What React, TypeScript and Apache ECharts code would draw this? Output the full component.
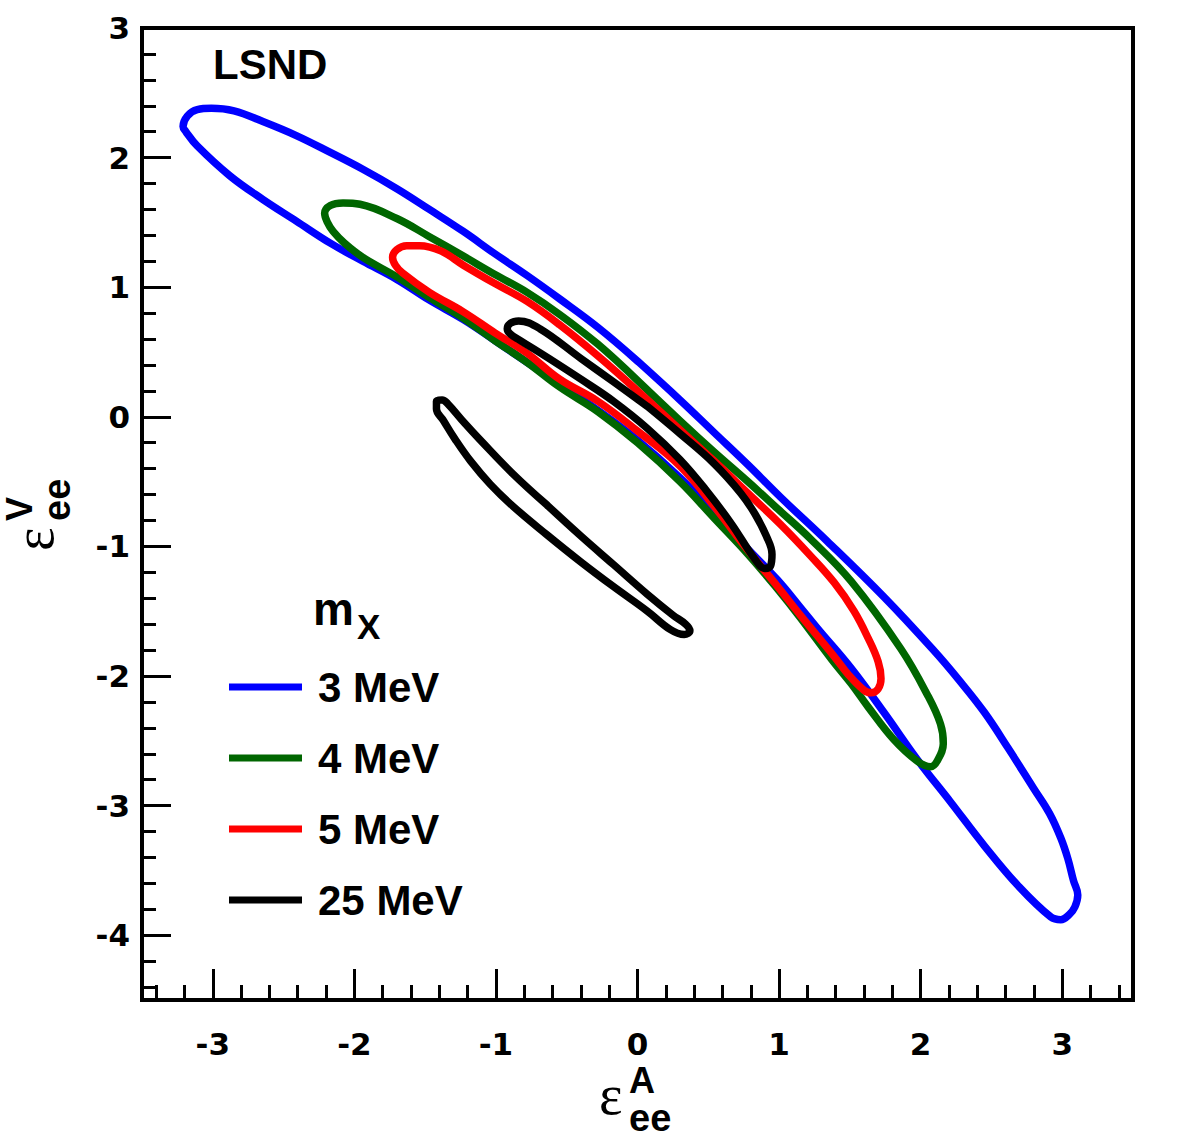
import React, { useEffect, useRef } from 'react';
import * as echarts from 'echarts';

// ---------- axes ----------
const xRange = [-3.5, 3.5];
const yRange = [-4.5, 3];
const xTickLabels = [-3, -2, -1, 0, 1, 2, 3];
const yTickLabels = [-4, -3, -2, -1, 0, 1, 2, 3];

// ---------- legend / labels ----------
const massLabels = ['3 MeV', '4 MeV', '5 MeV', '25 MeV'];
const massColors = ['#0000ff', '#006600', '#ff0000', '#000000'];
const experimentLabel = 'LSND';

// ---------- contours (eps_ee^A, eps_ee^V) ----------
const contour3MeV: [number, number][] = [
  [-3.21, 2.24], [-3.18, 2.32], [-3.11, 2.37], [-3.01, 2.38], [-2.85, 2.36], [-2.65, 2.28],
  [-2.41, 2.17], [-2.17, 2.04], [-1.94, 1.91], [-1.70, 1.76], [-1.47, 1.60], [-1.23, 1.43],
  [-1.01, 1.26], [-0.78, 1.09], [-0.55, 0.91], [-0.28, 0.69], [0.00, 0.43], [0.30, 0.13],
  [0.54, -0.12], [0.78, -0.37], [1.01, -0.62], [1.34, -0.96], [1.74, -1.39], [2.09, -1.80],
  [2.27, -2.03], [2.45, -2.28], [2.62, -2.56], [2.80, -2.87], [2.91, -3.06], [2.99, -3.25],
  [3.04, -3.41], [3.08, -3.58], [3.11, -3.69], [3.09, -3.78], [3.05, -3.84], [2.99, -3.88],
  [2.92, -3.86], [2.69, -3.62], [2.45, -3.31], [2.21, -2.97], [1.98, -2.65], [1.74, -2.28],
  [1.51, -1.94], [1.27, -1.63], [1.15, -1.47], [0.99, -1.26], [0.78, -1.02], [0.54, -0.74],
  [0.30, -0.47], [0.00, -0.18], [-0.28, 0.05], [-0.55, 0.25], [-0.78, 0.42], [-1.01, 0.59],
  [-1.23, 0.75], [-1.47, 0.90], [-1.70, 1.06], [-1.94, 1.20], [-2.17, 1.34], [-2.41, 1.51],
  [-2.65, 1.68], [-2.88, 1.86], [-3.11, 2.09], [-3.19, 2.20],
];

const contour4MeV: [number, number][] = [
  [-2.21, 1.57], [-2.17, 1.63], [-2.08, 1.65], [-1.96, 1.64], [-1.70, 1.53], [-1.47, 1.39],
  [-1.23, 1.24], [-1.01, 1.10], [-0.78, 0.96], [-0.55, 0.79], [-0.28, 0.56], [0.00, 0.28],
  [0.30, -0.03], [0.54, -0.27], [0.78, -0.50], [0.99, -0.71], [1.22, -0.94], [1.51, -1.27],
  [1.86, -1.79], [2.05, -2.15], [2.14, -2.37], [2.16, -2.52], [2.12, -2.65], [2.07, -2.70],
  [1.98, -2.66], [1.81, -2.49], [1.63, -2.24], [1.51, -2.06], [1.37, -1.87], [1.15, -1.55],
  [0.99, -1.33], [0.78, -1.06], [0.54, -0.78], [0.30, -0.50], [0.00, -0.20], [-0.28, 0.04],
  [-0.55, 0.23], [-0.78, 0.42], [-1.01, 0.59], [-1.23, 0.76], [-1.47, 0.92], [-1.70, 1.08],
  [-1.94, 1.23], [-2.07, 1.34], [-2.15, 1.43], [-2.19, 1.50],
];

const contour5MeV: [number, number][] = [
  [-1.73, 1.23], [-1.70, 1.29], [-1.63, 1.32], [-1.54, 1.32], [-1.39, 1.28], [-1.23, 1.17],
  [-1.01, 1.03], [-0.78, 0.89], [-0.55, 0.71], [-0.28, 0.47], [0.00, 0.20], [0.30, -0.10],
  [0.54, -0.34], [0.78, -0.59], [1.01, -0.83], [1.22, -1.07], [1.39, -1.28], [1.53, -1.50],
  [1.63, -1.71], [1.70, -1.89], [1.72, -2.02], [1.70, -2.10], [1.65, -2.13], [1.60, -2.11],
  [1.49, -1.99], [1.39, -1.85], [1.15, -1.53], [0.99, -1.31], [0.78, -1.03], [0.54, -0.69],
  [0.30, -0.38], [0.00, -0.11], [-0.28, 0.12], [-0.55, 0.29], [-0.78, 0.49], [-1.01, 0.65],
  [-1.23, 0.81], [-1.47, 0.96], [-1.66, 1.11], [-1.71, 1.17],
];

const contour25MeVUpper: [number, number][] = [
  [-0.92, 0.68], [-0.90, 0.72], [-0.84, 0.74], [-0.69, 0.68], [-0.40, 0.45], [-0.17, 0.27],
  [0.07, 0.08], [0.30, -0.13], [0.54, -0.36], [0.73, -0.59], [0.83, -0.75], [0.91, -0.92],
  [0.95, -1.06], [0.94, -1.15], [0.90, -1.17], [0.83, -1.10], [0.66, -0.82], [0.48, -0.56],
  [0.30, -0.33], [0.07, -0.09], [-0.17, 0.12], [-0.40, 0.29], [-0.64, 0.46], [-0.83, 0.59],
  [-0.90, 0.64],
];

const contour25MeVLower: [number, number][] = [
  [-1.42, 0.12], [-1.38, 0.13], [-1.34, 0.10], [-1.22, -0.05], [-1.11, -0.18], [-0.88, -0.44],
  [-0.64, -0.68], [-0.40, -0.92], [-0.17, -1.14], [0.07, -1.37], [0.25, -1.53], [0.34, -1.60],
  [0.37, -1.65], [0.33, -1.68], [0.23, -1.64], [0.07, -1.50], [-0.17, -1.31], [-0.40, -1.12],
  [-0.64, -0.91], [-0.88, -0.69], [-1.04, -0.52], [-1.18, -0.34], [-1.29, -0.17], [-1.37, -0.03],
  [-1.42, 0.06],
];

const contours = [
  { name: massLabels[0], color: massColors[0], pts: contour3MeV },
  { name: massLabels[1], color: massColors[1], pts: contour4MeV },
  { name: massLabels[2], color: massColors[2], pts: contour5MeV },
  { name: massLabels[3], color: massColors[3], pts: contour25MeVUpper },
  { name: massLabels[3], color: massColors[3], pts: contour25MeVLower },
];

// close a loop, starting in the middle of a branch so the seam is on a straight part
function closeLoop(pts: [number, number][]) {
  const s = Math.floor(pts.length / 4);
  return [...pts.slice(s), ...pts.slice(0, s + 1)];
}

function minorTicks(lo: number, hi: number) {
  const out: number[] = [];
  for (let i = Math.ceil(lo * 5); i <= Math.floor(hi * 5); i++) {
    if (i % 5 !== 0) out.push(i / 5);
  }
  return out;
}

const SANS = '"Liberation Sans", Arial, Helvetica, sans-serif';
const WIDE = '"DejaVu Sans", "Liberation Sans", sans-serif';
const SERIF = '"Liberation Serif", "Times New Roman", serif';

export default function App() {
  const ref = useRef<HTMLDivElement>(null);

  useEffect(() => {
    if (!ref.current) return;
    const chart = echarts.init(ref.current, undefined, { renderer: 'svg' });

    const labelStyle = { color: '#000', fontSize: 31, fontWeight: 'bold', fontFamily: WIDE };
    const tickLine = { color: '#000', width: 3 };

    const legendY0 = 687;
    const legendGap = 71;
    const legendGraphics: any[] = [];
    massLabels.forEach((lab, i) => {
      const y = legendY0 + i * legendGap;
      legendGraphics.push({
        type: 'line',
        shape: { x1: 229, y1: y, x2: 302, y2: y },
        style: { stroke: massColors[i], lineWidth: 7 },
      });
      legendGraphics.push({
        type: 'text', x: 318, y,
        style: { text: lab, fill: '#000', font: `bold 42px ${SANS}`, textAlign: 'left', textVerticalAlign: 'middle' },
      });
    });

    const txt = (x: number, y: number, text: string, font: string, lineHeight: number, rotation = 0) => ({
      type: 'text', x, y, rotation,
      style: { text, fill: '#000', font, lineHeight, textAlign: 'left', textVerticalAlign: 'middle' },
    });

    // stacked superscript / subscript as one rich text block
    const supSub = (x: number, y: number, sup: string, sub: string, rotation = 0) => ({
      type: 'text', x, y, rotation,
      style: {
        text: `{sup|${sup}}\n{sub|${sub}}`,
        textAlign: 'left', textVerticalAlign: 'middle',
        rich: {
          sup: { fontFamily: SANS, fontWeight: 'bold', fontSize: 36, lineHeight: 37.5, fill: '#000', color: '#000' },
          sub: { fontFamily: SANS, fontWeight: 'bold', fontSize: 38, lineHeight: 37.5, fill: '#000', color: '#000' },
        },
      },
    });

    const option: any = {
      animation: false,
      backgroundColor: '#ffffff',
      grid: {
        left: 142, top: 28, width: 991, height: 972,
        show: true, borderColor: '#000', borderWidth: 4, backgroundColor: 'transparent',
        containLabel: false, outerBoundsMode: 'none',
      },
      xAxis: [
        {
          type: 'value', min: xRange[0], max: xRange[1], position: 'bottom',
          axisLine: { show: true, onZero: false, lineStyle: { color: '#000', width: 4 } },
          axisTick: { show: true, inside: true, length: 31, customValues: xTickLabels, lineStyle: tickLine },
          axisLabel: { show: true, customValues: xTickLabels, margin: 28, ...labelStyle },
          splitLine: { show: false },
        },
        {
          type: 'value', min: xRange[0], max: xRange[1], position: 'bottom',
          axisLine: { show: false, onZero: false },
          axisTick: { show: true, inside: true, length: 15, customValues: minorTicks(xRange[0], xRange[1]), lineStyle: tickLine },
          axisLabel: { show: false },
          splitLine: { show: false },
        },
      ],
      yAxis: [
        {
          type: 'value', min: yRange[0], max: yRange[1], position: 'left',
          axisLine: { show: true, onZero: false, lineStyle: { color: '#000', width: 4 } },
          axisTick: { show: true, inside: true, length: 29, customValues: yTickLabels, lineStyle: tickLine },
          axisLabel: { show: true, customValues: yTickLabels, margin: 12, ...labelStyle },
          splitLine: { show: false },
        },
        {
          type: 'value', min: yRange[0], max: yRange[1], position: 'left',
          axisLine: { show: false, onZero: false },
          axisTick: { show: true, inside: true, length: 14, customValues: minorTicks(yRange[0], yRange[1]), lineStyle: tickLine },
          axisLabel: { show: false },
          splitLine: { show: false },
        },
      ],
      graphic: [
        txt(213, 64, experimentLabel, `bold 42px ${SANS}`, 42),
        // legend title m_X
        txt(313, 609, 'm', `bold 46px ${SANS}`, 30),
        txt(357, 626, 'X', `bold 35px ${SANS}`, 26),
        ...legendGraphics,
        // x-axis title  eps^A_ee
        txt(599, 1095, 'ε', `56px ${SERIF}`, 32),
        supSub(629, 1099.5, 'A', 'ee'),
        // y-axis title  eps^V_ee (rotated)
        txt(34, 551, 'ε', `56px ${SERIF}`, 32, Math.PI / 2),
        supSub(38.5, 521, 'V', 'ee', Math.PI / 2),
      ],
      series: contours.map((c, i) => ({
        type: 'line',
        name: c.name,
        xAxisIndex: 0,
        yAxisIndex: 0,
        data: closeLoop(c.pts),
        showSymbol: false,
        symbol: 'none',
        smooth: 0.4,
        silent: true,
        z: 2 + i,
        lineStyle: { color: c.color, width: 7.5, cap: 'round', join: 'round' },
        itemStyle: { color: c.color },
      })),
    };

    chart.setOption(option);
    return () => chart.dispose();
  }, []);

  return (
    <div
      ref={ref}
      style={{ position: 'absolute', left: 0, top: 0, width: 1182, height: 1138, background: '#fff' }}
    />
  );
}
